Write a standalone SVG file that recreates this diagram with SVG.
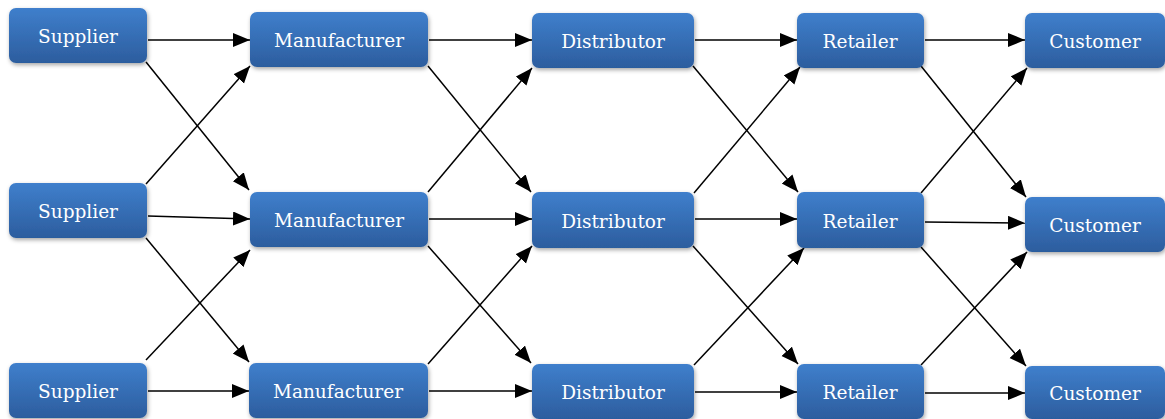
<svg xmlns="http://www.w3.org/2000/svg" width="1165" height="419" viewBox="0 0 1165 419">
<style>
.box{fill:url(#g);filter:url(#sh)}
.lbl{font-family:"DejaVu Serif","Liberation Serif",serif;font-size:18.5px;fill:#ffffff;text-anchor:middle}
.c{stroke:#000;stroke-width:1.5;fill:none;marker-end:url(#ah)}
</style>
<defs>
<linearGradient id="g" x1="0" y1="0" x2="0" y2="1">
<stop offset="0" stop-color="#3f7fcc"/>
<stop offset="1" stop-color="#2c5d9e"/>
</linearGradient>
<filter id="sh" x="-10%" y="-10%" width="125%" height="140%">
<feDropShadow dx="1" dy="2" stdDeviation="2" flood-color="#000" flood-opacity="0.35"/>
</filter>
<marker id="ah" markerUnits="userSpaceOnUse" markerWidth="18" markerHeight="16" refX="17" refY="7" orient="auto">
<path d="M0,0 L17,7 L0,14 Z" fill="#000"/>
</marker>
</defs>
<g id="connectors">
<line class="c" x1="148" y1="40" x2="250" y2="40"/>
<line class="c" x1="146" y1="62" x2="249" y2="190"/>
<line class="c" x1="146" y1="184" x2="250" y2="66"/>
<line class="c" x1="148" y1="216" x2="250" y2="219"/>
<line class="c" x1="146" y1="238" x2="249" y2="362"/>
<line class="c" x1="146" y1="360" x2="250" y2="250"/>
<line class="c" x1="148" y1="391" x2="249" y2="391"/>

<line class="c" x1="429" y1="40" x2="532" y2="40"/>
<line class="c" x1="428" y1="66" x2="531" y2="192"/>
<line class="c" x1="428" y1="192" x2="532" y2="68"/>
<line class="c" x1="429" y1="219" x2="532" y2="219"/>
<line class="c" x1="428" y1="246" x2="531" y2="363"/>
<line class="c" x1="428" y1="364" x2="532" y2="246"/>
<line class="c" x1="429" y1="391" x2="532" y2="391"/>

<line class="c" x1="695" y1="40" x2="797" y2="40"/>
<line class="c" x1="693" y1="66" x2="798" y2="192"/>
<line class="c" x1="694" y1="193" x2="800" y2="67"/>
<line class="c" x1="695" y1="219" x2="797" y2="219"/>
<line class="c" x1="693" y1="246" x2="798" y2="364"/>
<line class="c" x1="694" y1="365" x2="804" y2="248"/>
<line class="c" x1="695" y1="392" x2="797" y2="392"/>

<line class="c" x1="925" y1="40" x2="1025" y2="40"/>
<line class="c" x1="921" y1="66" x2="1026" y2="197"/>
<line class="c" x1="921" y1="193" x2="1027" y2="68"/>
<line class="c" x1="925" y1="222" x2="1025" y2="223"/>
<line class="c" x1="921" y1="247" x2="1026" y2="366"/>
<line class="c" x1="921" y1="365" x2="1027" y2="252"/>
<line class="c" x1="925" y1="393" x2="1025" y2="393"/>
</g>
<g id="supplier1"><rect class="box" x="9" y="8" width="138" height="55" rx="7"/><text class="lbl" x="78" y="43">Supplier</text></g>
<g id="supplier2"><rect class="box" x="9" y="183" width="138" height="55" rx="7"/><text class="lbl" x="78" y="218">Supplier</text></g>
<g id="supplier3"><rect class="box" x="9" y="363" width="138" height="55" rx="7"/><text class="lbl" x="78" y="398">Supplier</text></g>
<g id="manufacturer1"><rect class="box" x="250" y="12" width="178" height="55" rx="7"/><text class="lbl" x="339" y="47">Manufacturer</text></g>
<g id="manufacturer2"><rect class="box" x="250" y="192" width="178" height="55" rx="7"/><text class="lbl" x="339" y="227">Manufacturer</text></g>
<g id="manufacturer3"><rect class="box" x="249" y="363" width="179" height="55" rx="7"/><text class="lbl" x="338" y="398">Manufacturer</text></g>
<g id="distributor1"><rect class="box" x="532" y="13" width="162" height="55" rx="7"/><text class="lbl" x="613" y="48">Distributor</text></g>
<g id="distributor2"><rect class="box" x="532" y="192" width="162" height="56" rx="7"/><text class="lbl" x="613" y="228">Distributor</text></g>
<g id="distributor3"><rect class="box" x="532" y="364" width="162" height="55" rx="7"/><text class="lbl" x="613" y="399">Distributor</text></g>
<g id="retailer1"><rect class="box" x="797" y="13" width="127" height="55" rx="7"/><text class="lbl" x="860" y="48">Retailer</text></g>
<g id="retailer2"><rect class="box" x="797" y="192" width="127" height="56" rx="7"/><text class="lbl" x="860" y="228">Retailer</text></g>
<g id="retailer3"><rect class="box" x="797" y="364" width="127" height="55" rx="7"/><text class="lbl" x="860" y="399">Retailer</text></g>
<g id="customer1"><rect class="box" x="1025" y="13" width="140" height="55" rx="7"/><text class="lbl" x="1095" y="48">Customer</text></g>
<g id="customer2"><rect class="box" x="1025" y="197" width="140" height="55" rx="7"/><text class="lbl" x="1095" y="232">Customer</text></g>
<g id="customer3"><rect class="box" x="1025" y="366" width="140" height="53" rx="7"/><text class="lbl" x="1095" y="400">Customer</text></g>
</svg>
